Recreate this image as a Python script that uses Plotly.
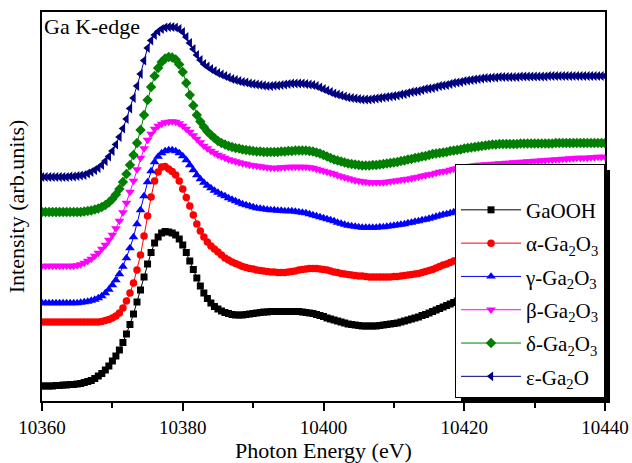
import plotly.graph_objects as go

# photon energy grid (eV), 0.5 eV sampling
energy = [10360 + 0.5 * i for i in range(161)]

gaooh = [15, 15, 15, 15, 15.5, 15.5, 16, 16, 16.5, 16.5,
         17, 17.5, 18.5, 19.5, 20.5, 22.5, 25, 27.5, 31, 35,
         40, 45, 51, 58.5, 67, 76.5, 87, 99, 111, 124,
         137, 148.5, 158, 164, 168, 169.5, 169, 168, 166, 162,
         156, 148.5, 140, 131.5, 123, 115, 108, 102.5, 98, 94.5,
         92, 90, 88.5, 87.5, 86.5, 86, 86, 86, 86.5, 87,
         87.5, 88, 88.5, 89, 89, 89.5, 89.5, 89.5, 89.5, 89.5,
         89.5, 89.5, 89.5, 89.5, 89, 88.5, 88, 87.5, 86.5, 85.5,
         84.5, 83, 82, 81, 80, 79, 78, 77, 76.5, 76,
         75.5, 75, 75, 75, 75, 75, 75.5, 76, 76.5, 77,
         77.5, 78, 79, 80, 81, 82, 83, 84, 85.5, 86.5,
         88, 89.5, 91, 92.5, 94, 95.5, 97, 98.5, 100, 101.5,
         103, 104, 105.5, 107, 108, 109, 110, 111, 112, 113,
         113.5, 114.5, 115, 115.5, 116, 116.5, 117, 117.5, 118, 118,
         118.5, 119, 119, 119.5, 119.5, 120, 120, 120.5, 120.5, 120.5,
         121, 121, 121, 121.5, 121.5, 121.5, 121.5, 122, 122, 122,
         122]

alpha = [79, 79, 79, 79, 79, 79, 79, 79, 79, 79,
         79, 79, 79, 79, 79, 79, 79, 79.5, 80.5, 81.5,
         83, 85, 88, 93, 100, 108, 118, 131, 146, 165,
         185, 204, 220, 229, 234, 234.5, 232, 229.5, 226, 220,
         212, 203.5, 195, 186, 177, 170, 164, 159, 155, 152,
         149, 146, 143, 141, 139, 137.5, 136, 134.5, 133.5, 132.5,
         132, 131, 130.5, 130, 129.5, 129, 129, 128.5, 128.5, 128.5,
         129, 129.5, 130, 131, 131.5, 132, 132.5, 132.5, 132.5, 132,
         131.5, 131, 130, 129, 128.5, 127.5, 127, 126.5, 126, 125.5,
         125, 125, 124.5, 124, 124, 124, 124, 124, 124, 124,
         124.5, 124.5, 125, 125.5, 126, 126.5, 127, 127.5, 128.5, 129.5,
         130.5, 131.5, 133, 134.5, 136, 137, 138.5, 140, 141, 142,
         143, 144, 145, 146, 147, 148, 148.5, 149, 150, 150.5,
         151, 151.5, 152, 152, 152.5, 153, 153, 153, 153.5, 153.5,
         154, 154, 154, 154, 154.5, 154.5, 154.5, 154.5, 155, 155,
         155, 155, 155, 155, 155.5, 155.5, 155.5, 155.5, 155.5, 155.5,
         156]

gamma = [98, 98, 98, 98, 98, 98, 98, 98, 98, 98,
         98, 98.5, 99, 99.5, 100.5, 101.5, 103, 105, 108, 111.5,
         116, 121, 127, 134.5, 143, 153, 164, 177, 191, 205,
         219, 230, 239, 244.5, 248, 250, 251, 251, 250, 248,
         245, 241, 236, 231, 226, 222, 218.5, 215.5, 213, 210.5,
         208.5, 206.5, 205, 203, 201.5, 200, 198.5, 197, 196, 195,
         194, 193, 192.5, 192, 191.5, 191, 191, 190.5, 190.5, 190,
         190, 190, 189.5, 189, 188.5, 188, 187, 186, 185, 184,
         183, 182, 181, 180, 178.5, 177.5, 176.5, 175.5, 175, 174.5,
         174, 173.5, 173.5, 173.5, 173.5, 173.5, 174, 174, 174.5, 175,
         175.5, 176, 176.5, 177, 178, 178.5, 179.5, 180, 181, 181.5,
         182.5, 183.5, 184.5, 185.5, 186.5, 187, 188, 189, 189.5, 190,
         191, 191.5, 192, 192.5, 193, 193.5, 194, 194.5, 195, 195,
         195.5, 195.5, 196, 196, 196.5, 196.5, 197, 197, 197.5, 197.5,
         198, 198, 198, 198, 198.5, 198.5, 198.5, 198.5, 199, 199,
         199, 199, 199, 199, 199.5, 199.5, 199.5, 199.5, 200, 200,
         200]

beta = [135, 135, 135, 135, 135, 135, 135, 135, 135, 135,
        135.5, 136.5, 138, 140, 142, 145, 148, 152, 156, 161,
        166, 172.5, 180, 188.5, 198, 209, 220, 231.5, 243, 252.5,
        261, 267, 272, 275, 277, 278.5, 279, 279.5, 279, 277.5,
        275, 272, 269, 265.5, 262, 258.5, 255, 252.5, 250, 248,
        246, 244.5, 243, 241.5, 240.5, 239.5, 238.5, 237.5, 237, 236,
        235.5, 235, 234.5, 234, 233.5, 233, 233, 233, 233.5, 233.5,
        234, 234, 234, 234, 234, 234, 233.5, 233, 232, 231,
        230, 229, 228, 227, 225.5, 224.5, 223.5, 222.5, 221.5, 220.5,
        220, 219.5, 219, 218.5, 218.5, 218.5, 218.5, 218.5, 219, 219.5,
        220, 220.5, 221, 221.5, 222, 222.5, 223.5, 224, 225, 225.5,
        226.5, 227, 228, 229, 229.5, 230, 231, 232, 232.5, 233,
        234, 234.5, 235, 235.5, 236, 236, 236.5, 236.5, 237, 237,
        237.5, 237.5, 238, 238, 238.5, 238.5, 239, 239, 239.5, 239.5,
        240, 240, 240.5, 240.5, 241, 241, 241.5, 241.5, 242, 242,
        242.5, 242.5, 243, 243, 243, 243, 243.5, 243.5, 244, 244,
        244]

delta = [189, 189, 189, 189, 189, 189, 189, 189, 189, 189,
         189, 189, 189.5, 190, 190.5, 191.5, 192.5, 194, 196, 198.5,
         202, 206.5, 212, 219, 227, 236, 246, 258, 271, 286,
         301, 314, 325, 333, 339, 342.5, 344, 343.5, 341.5, 336.5,
         329, 318, 306, 295.5, 286, 279.5, 274, 269.5, 266, 263,
         260, 258, 256.5, 255, 254, 253, 252.5, 251.5, 251, 250.5,
         250, 249.5, 249.5, 249, 249, 249, 249, 249, 249.5, 249.5,
         250, 250, 250.5, 250.5, 250.5, 250.5, 250, 249.5, 248.5, 247.5,
         246, 244.5, 243, 241.5, 240.5, 239.5, 238.5, 237.5, 237, 236.5,
         236, 235.5, 235.5, 235.5, 236, 236, 236.5, 237, 237.5, 238,
         238.5, 239, 240, 240.5, 241.5, 242, 243, 243.5, 244.5, 245,
         246, 247, 247.5, 248, 248.5, 249, 250, 250.5, 251, 251.5,
         252.5, 253, 253.5, 254, 254.5, 255, 255.5, 256, 256.5, 256.5,
         257, 257, 257, 257, 257, 257, 257.5, 257.5, 257.5, 257.5,
         257.5, 257.5, 257.5, 257.5, 257.5, 257.5, 258, 258, 258, 258,
         258, 258, 258, 258, 258, 258, 258, 258, 258, 258,
         258]

epsilon = [224, 224, 224, 224, 224, 224, 224, 224, 224.5, 224.5,
           225, 225.5, 226, 227.5, 229, 231, 233, 236, 240, 244.5,
           250, 256.5, 264, 272.5, 282, 292.5, 303, 315, 327, 340.5,
           353, 360.5, 366, 369.5, 372, 373.5, 374, 374, 373.5, 372,
           369, 364, 358, 352, 346, 341, 337, 334.5, 332, 330,
           328, 326.5, 325, 323.5, 322, 321, 320, 319, 318.5, 317.5,
           317, 316.5, 316, 315.5, 315, 315, 315.5, 315.5, 316, 316.5,
           317, 317.5, 317.5, 317.5, 317.5, 317, 316.5, 316, 315, 313.5,
           312, 310.5, 309, 307.5, 306.5, 305.5, 304.5, 303.5, 303, 302.5,
           302, 301.5, 301.5, 301.5, 302, 302.5, 303, 303.5, 304, 304.5,
           305, 305.5, 306.5, 307, 308, 309, 309.5, 310, 311, 312,
           312.5, 313, 314, 315, 315.5, 316, 317, 318, 318.5, 319,
           320, 320.5, 321, 321.5, 322, 322.5, 323, 323, 323.5, 323.5,
           324, 324, 324, 324, 324, 324, 324.5, 324.5, 324.5, 324.5,
           324.5, 324.5, 324.5, 324.5, 325, 325, 325, 325, 325, 325,
           325, 325, 325, 325, 325, 325, 325, 325, 325, 325,
           325]

names = ["GaOOH", "α-Ga<sub>2</sub>O<sub>3</sub>", "γ-Ga<sub>2</sub>O<sub>3</sub>",
         "β-Ga<sub>2</sub>O<sub>3</sub>", "δ-Ga<sub>2</sub>O<sub>3</sub>", "ε-Ga<sub>2</sub>O"]
series = [gaooh, alpha, gamma, beta, delta, epsilon]
colors = ["#000000", "#ff0000", "#0000ff", "#ff00ff", "#007f00", "#00007f"]
symbols = ["square", "circle", "triangle-up", "triangle-down", "diamond", "triangle-left"]
sizes = [7, 7.5, 8.5, 8.5, 8, 8.5]

xticks = [10360, 10380, 10400, 10420, 10440]

FONT = "Liberation Serif"

fig = go.Figure()
for i, (nm, ys) in enumerate(zip(names, series)):
    fig.add_trace(go.Scatter(
        x=energy, y=ys, name=nm, mode="lines+markers",
        line=dict(color=colors[i], width=1),
        marker=dict(symbol=symbols[i], size=sizes[i], color=colors[i]),
        legendgroup=str(i),
    ))

# drop shadow behind the legend box
fig.add_shape(type="rect", xref="paper", yref="paper",
              x0=0.7442, x1=1.0089, y0=-0.005, y1=0.594,
              fillcolor="black", line=dict(width=0), layer="above")

fig.update_layout(
    width=632, height=463,
    margin=dict(l=42, r=27, t=12, b=62, autoexpand=False),
    paper_bgcolor="white", plot_bgcolor="white",
    font=dict(family=FONT, color="black", size=19),
    showlegend=True,
    legend=dict(
        x=0.7336, y=0.6093, xanchor="left", yanchor="top",
        bgcolor="white", bordercolor="black", borderwidth=1,
        font=dict(family=FONT, size=21, color="black"),
        itemwidth=60, tracegroupgap=3,
        title=dict(text=" ", font=dict(family=FONT, size=19)),
    ),
    xaxis=dict(
        range=[10360, 10440], tickvals=xticks, ticktext=[str(v) for v in xticks],
        ticks="outside", ticklen=8, tickwidth=1.5, tickcolor="black",
        minor=dict(dtick=10, ticks="outside", ticklen=5, tickwidth=1.5, tickcolor="black"),
        showline=True, linecolor="black", linewidth=1.5, mirror=True,
        showgrid=False, zeroline=False, automargin=False,
        tickfont=dict(family=FONT, size=19),
        title=dict(text="Photon Energy (eV)", font=dict(family=FONT, size=22), standoff=3),
    ),
    yaxis=dict(
        range=[0, 389], showticklabels=False, ticks="",
        showline=True, linecolor="black", linewidth=1.5, mirror=True,
        showgrid=False, zeroline=False, automargin=False,
        title=dict(text="Intensity (arb.units)", font=dict(family=FONT, size=22), standoff=10),
    ),
    annotations=[dict(
        text="Ga K-edge", xref="paper", yref="paper", x=0.0, y=1.0,
        xanchor="left", yanchor="top", showarrow=False,
        font=dict(family=FONT, size=22, color="black"),
    )],
)

fig.write_html("out.html", config={"displayModeBar": False},
               post_script="document.body.style.margin='0';")
